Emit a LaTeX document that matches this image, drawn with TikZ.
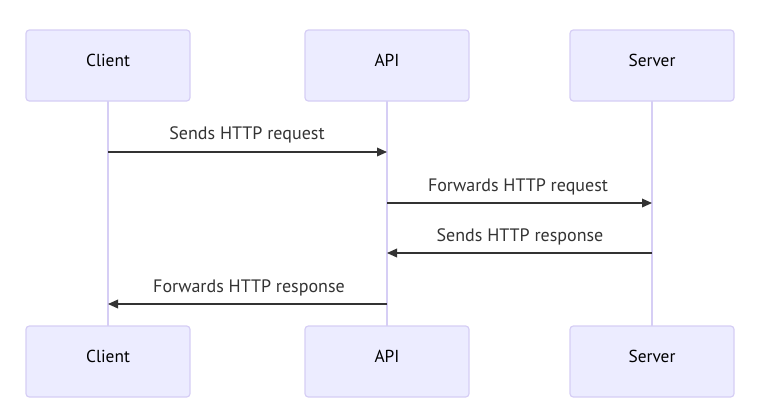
\documentclass[tikz,border=0pt]{standalone}
\usepackage{fontspec}
\setmainfont{PT Sans}
\usetikzlibrary{arrows.meta}
\definecolor{actorfill}{HTML}{ECECFF}
\definecolor{actorline}{HTML}{D6CEF5}
\definecolor{msgline}{HTML}{333333}
\tikzset{
  actor/.style={draw=actorline, fill=actorfill, line width=0.9pt, rounded corners=2.5pt,
    minimum width=123pt, minimum height=53.25pt, inner sep=0pt, text depth=8pt,
    font=\fontsize{13}{15}\selectfont},
  life/.style={draw=actorline, line width=1.4pt},
  msg/.style={draw=msgline, line width=1pt, -{Triangle[length=7.5pt,width=6.5pt]}},
  msglabel/.style={text=msgline, font=\fontsize{13.5}{16}\selectfont, inner sep=0pt}
}
\begin{document}
\begin{tikzpicture}[x=0.75pt,y=-0.75pt]
	\useasboundingbox (0,0) rectangle (773,419);
	%%  Lifelines  %%%%%%%%
	\coordinate (cl) at (108,101);
	\coordinate (ap) at (387,101);
	\coordinate (sv) at (652,101);
	\draw[life] (cl) -- (108,326);
	\draw[life] (ap) -- (387,326);
	\draw[life] (sv) -- (652,326);
	%%  Actors  %%%%%%%%
	\node[actor] (clientTop) at (108,65.5) {Client};
	\node[actor] (apiTop) at (387,65.5) {API};
	\node[actor] (serverTop) at (652,65.5) {Server};
	\node[actor] (clientBot) at (108,361.5) {Client};
	\node[actor] (apiBot) at (387,361.5) {API};
	\node[actor] (serverBot) at (652,361.5) {Server};
	%%  Messages  %%%%%%%%
	\draw[msg] (clientTop |- 0,152) -- (apiTop |- 0,152);
	\node[msglabel] (m1) at (247,135) {Sends HTTP request};
	\draw[msg] (apiTop |- 0,203) -- (serverTop |- 0,203);
	\node[msglabel] (m2) at (518,187) {Forwards HTTP request};
	\draw[msg] (serverTop |- 0,253) -- (apiTop |- 0,253);
	\node[msglabel] (m3) at (520,237) {Sends HTTP response};
	\draw[msg] (apiTop |- 0,304) -- (clientTop |- 0,304);
	\node[msglabel] (m4) at (249,288) {Forwards HTTP response};
	%%%%%%%%%%%%%%%
\end{tikzpicture}
\end{document}
